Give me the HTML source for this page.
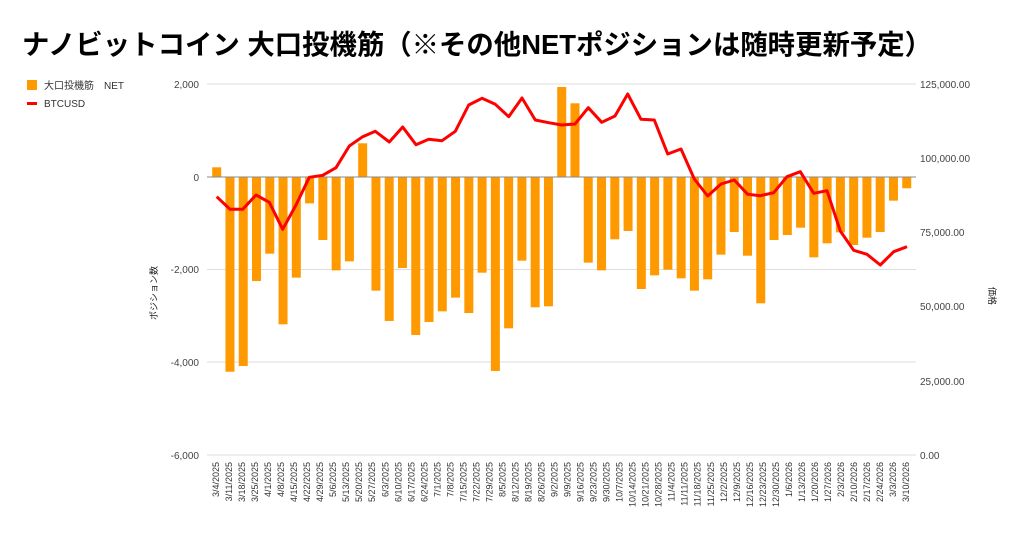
<!DOCTYPE html>
<html><head><meta charset="utf-8"><style>
body{margin:0;background:#fff;width:1024px;height:538px;overflow:hidden}
svg text{font-family:"Liberation Sans","Noto Sans CJK JP",sans-serif}
</style></head><body>
<svg width="1024" height="538" xmlns="http://www.w3.org/2000/svg">
<text x="22" y="54" font-size="27.5" font-weight="bold" fill="#000" textLength="910" lengthAdjust="spacingAndGlyphs">ナノビットコイン 大口投機筋（※その他NETポジションは随時更新予定）</text>
<rect x="27" y="80" width="10" height="10" fill="#ff9900"/>
<text x="44" y="89" font-size="10" fill="#333">大口投機筋　NET</text>
<rect x="27" y="102" width="10" height="3" fill="#ff0000"/>
<text x="44" y="107" font-size="10" fill="#333">BTCUSD</text>
<g stroke="#ddd" stroke-width="1">
<line x1="207" y1="84" x2="916" y2="84"/>
<line x1="207" y1="269.5" x2="916" y2="269.5"/>
<line x1="207" y1="362" x2="916" y2="362"/>
<line x1="207" y1="455" x2="916" y2="455"/>
</g>
<g font-size="10" fill="#444" text-anchor="end">
<text x="199" y="88">2,000</text><text x="199" y="181">0</text><text x="199" y="273">-2,000</text><text x="199" y="366">-4,000</text><text x="199" y="459">-6,000</text>
</g>
<g font-size="10" fill="#444">
<text x="920" y="88">125,000.00</text><text x="920" y="162">100,000.00</text><text x="920" y="236">75,000.00</text><text x="920" y="310">50,000.00</text><text x="920" y="385">25,000.00</text><text x="920" y="459">0.00</text>
</g>
<text transform="translate(157,293) rotate(-90)" font-size="9" fill="#222" text-anchor="middle">ポジション数</text>
<text transform="translate(989,296) rotate(90)" font-size="9" fill="#222" text-anchor="middle">価格</text>
<g id="bars" fill="#ff9900"></g>
<line x1="207" y1="177" x2="916" y2="177" stroke="#888" stroke-width="1"/>
<polyline fill="none" stroke="#ff0000" stroke-width="3" stroke-linejoin="round" points="216.7,196.7 230,209.3 242.7,209.3 256,195 269.3,202.3 282.7,229.3 296,205 309.3,177.3 322.7,175.3 336,167.7 349.3,146 362.7,136.7 375.3,131.3 389.3,142 402.7,127 416,144.7 428.7,139.3 442,140.7 455.3,131.3 468.7,105 482,98.3 495.3,104.3 508.7,116.7 522,98 535.3,120 548.7,122.7 561.7,125 575,124 588.3,107.7 601.7,122.3 615,116 627.7,94 641,119.3 654.3,120 667.7,154 681,149 694.3,179 707.7,196 721,184 734.3,180 747.7,194.3 760.3,195.7 773.7,192.7 787,176.7 800.3,171.7 813.7,193.3 827,190.7 840.3,231 853.7,250.3 867,254.3 880.3,265 893.7,251.7 907,246.7"/>
<g id="xl" font-size="9" fill="#333"></g>
</svg>
<script>
var v=[210,-4220,-4095,-2254,-1662,-3192,-2181,-571,-1365,-2023,-1828,730,-2463,-3120,-1972,-3423,-3142,-2911,-2614,-2947,-2073,-4203,-3279,-1813,-2824,-2802,1950,1597,-1856,-2023,-1350,-1170,-2427,-2131,-2008,-2196,-2463,-2217,-1683,-1192,-1705,-2737,-1365,-1257,-1098,-1741,-1437,-1199,-1473,-1315,-1192,-513,-245];
var ns="http://www.w3.org/2000/svg",g=document.getElementById('bars');
for(var i=0;i<v.length;i++){var cx=216.7+i*13.27,h=Math.abs(v[i])*0.04615;var r=document.createElementNS(ns,'rect');r.setAttribute('x',cx-4.5);r.setAttribute('width',9);r.setAttribute('y',v[i]>0?177-h:177);r.setAttribute('height',h);g.appendChild(r);}
var xl=document.getElementById('xl'),d=new Date(2025,2,4);
for(var i=0;i<54;i++){var t=document.createElementNS(ns,'text');var x=216+i*13.02+3;t.setAttribute('transform','translate('+x+',462) rotate(-90)');t.setAttribute('text-anchor','end');t.textContent=(d.getMonth()+1)+'/'+d.getDate()+'/'+d.getFullYear();xl.appendChild(t);d.setDate(d.getDate()+7);}
</script>
</body></html>
